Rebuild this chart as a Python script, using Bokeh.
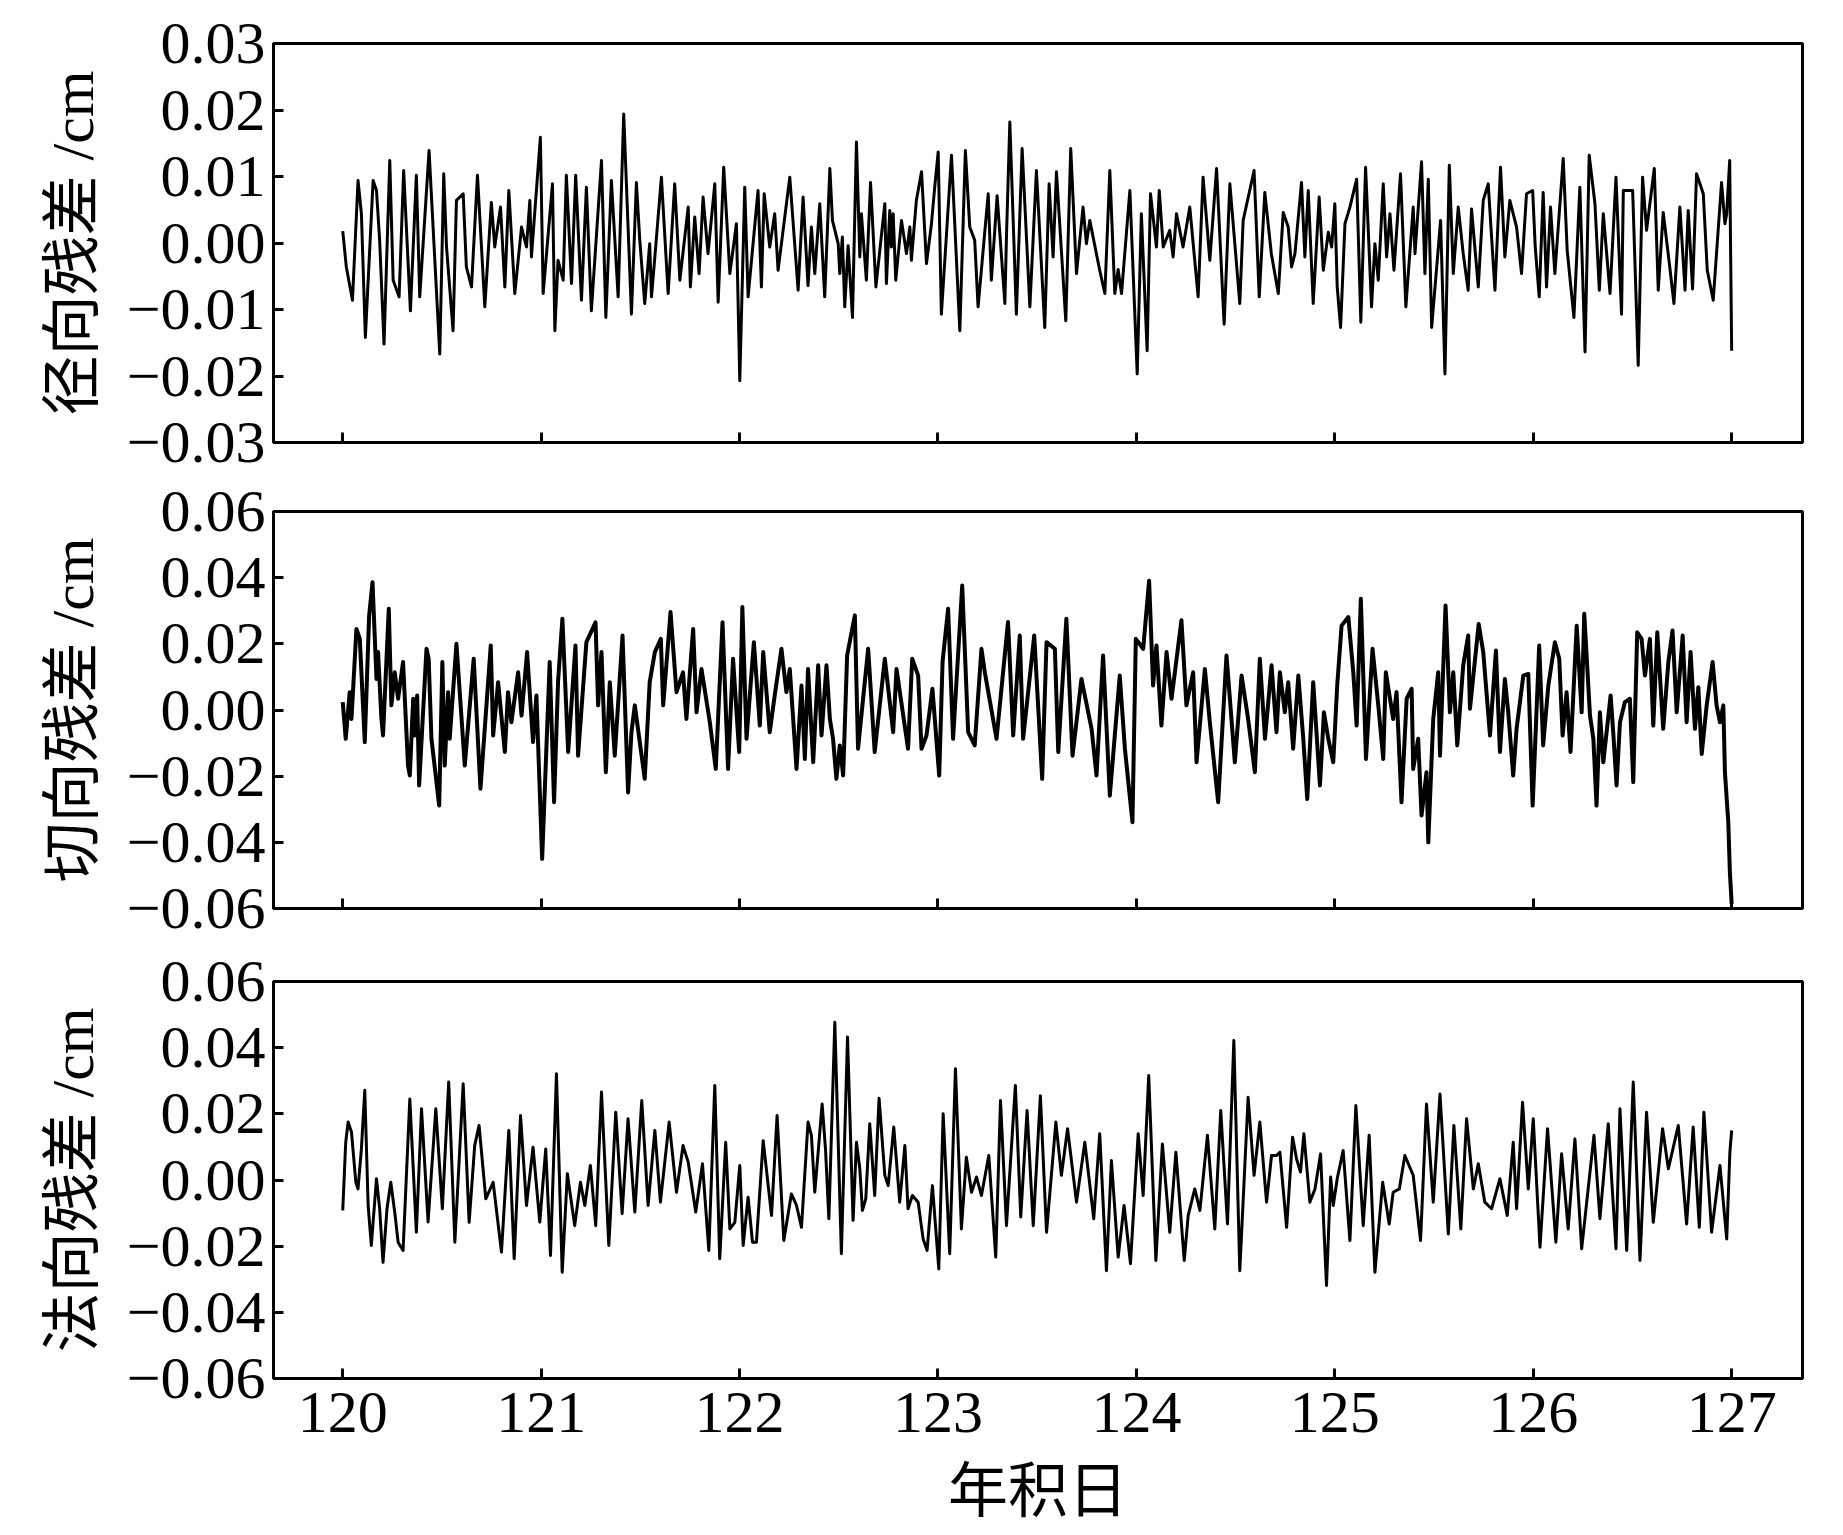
from bokeh.plotting import figure
from bokeh.layouts import column
from bokeh.models import FixedTicker, CustomJSTickFormatter, Range1d
from bokeh.embed import file_html
from bokeh.resources import INLINE

# ---- data: (day of year, residual in cm) ----
radial = [
    (120.000, 0.0018), (120.018, -0.0036), (120.049, -0.0086), (120.077, 0.0094), (120.094, 0.0044),
    (120.114, -0.0142), (120.153, 0.0094), (120.170, 0.0079), (120.186, 0.0004), (120.208, -0.0152),
    (120.237, 0.0124), (120.254, -0.0056), (120.284, -0.0081), (120.307, 0.0109), (120.341, -0.0102),
    (120.371, 0.0102), (120.388, -0.0081), (120.435, 0.0139), (120.489, -0.0167), (120.509, 0.0104),
    (120.523, -0.0006), (120.556, -0.0132), (120.573, 0.0064), (120.607, 0.0074), (120.623, -0.0036),
    (120.649, -0.0066), (120.679, 0.0102), (120.716, -0.0096), (120.749, 0.0061), (120.766, -0.0006),
    (120.795, 0.0054), (120.817, -0.0066), (120.837, 0.0079), (120.867, -0.0076), (120.901, 0.0024),
    (120.926, -0.0006), (120.943, 0.0064), (120.951, -0.0021), (120.996, 0.0159), (121.010, -0.0076),
    (121.057, 0.0089), (121.069, -0.0132), (121.085, -0.0026), (121.111, -0.0056), (121.127, 0.0102),
    (121.153, -0.0061), (121.174, 0.0102), (121.203, -0.0086), (121.228, 0.0084), (121.253, -0.0102),
    (121.304, 0.0124), (121.326, -0.0112), (121.354, 0.0094), (121.388, -0.0081), (121.416, 0.0194),
    (121.455, -0.0107), (121.480, 0.0091), (121.497, 0.0004), (121.522, -0.0091), (121.547, -0.0001),
    (121.556, -0.0081), (121.573, -0.0021), (121.606, 0.0099), (121.640, -0.0076), (121.673, 0.0089),
    (121.699, -0.0056), (121.741, 0.0054), (121.752, -0.0066), (121.774, 0.0039), (121.796, -0.0046),
    (121.816, 0.0069), (121.841, -0.0016), (121.875, 0.0089), (121.892, -0.0089), (121.920, 0.0114),
    (121.951, -0.0046), (121.984, 0.0029), (122.001, -0.0207), (122.026, 0.0084), (122.043, -0.0081),
    (122.093, 0.0079), (122.110, -0.0066), (122.124, 0.0074), (122.152, -0.0006), (122.177, 0.0044),
    (122.194, -0.0041), (122.253, 0.0099), (122.295, -0.0071), (122.320, 0.0069), (122.345, -0.0064),
    (122.362, 0.0024), (122.379, -0.0046), (122.404, 0.0059), (122.429, -0.0081), (122.455, 0.0112),
    (122.468, 0.0034), (122.497, -0.0001), (122.505, -0.0046), (122.518, 0.0009), (122.530, -0.0096),
    (122.547, -0.0004), (122.569, -0.0112), (122.589, 0.0152), (122.606, -0.0021), (122.614, 0.0044),
    (122.639, -0.0056), (122.660, 0.0091), (122.687, -0.0066), (122.732, 0.0059), (122.740, -0.0061),
    (122.757, 0.0049), (122.765, -0.0006), (122.774, 0.0044), (122.787, -0.0056), (122.816, 0.0034),
    (122.841, -0.0016), (122.858, 0.0024), (122.866, -0.0026), (122.891, 0.0064), (122.917, 0.0107),
    (122.942, -0.0031), (122.967, 0.0029), (122.984, 0.0086), (123.001, 0.0137), (123.017, -0.0107),
    (123.043, 0.0014), (123.068, 0.0132), (123.110, -0.0132), (123.138, 0.0139), (123.160, 0.0024),
    (123.185, 0.0004), (123.202, -0.0096), (123.253, 0.0074), (123.269, -0.0056), (123.298, 0.0071),
    (123.337, -0.0091), (123.345, 0.0009), (123.362, 0.0182), (123.395, -0.0107), (123.424, 0.0142),
    (123.463, -0.0096), (123.496, 0.0109), (123.538, -0.0127), (123.560, 0.0089), (123.580, -0.0021),
    (123.597, 0.0107), (123.644, -0.0117), (123.669, 0.0142), (123.698, -0.0046), (123.731, 0.0054),
    (123.748, -0.0001), (123.765, 0.0034), (123.815, -0.0041), (123.841, -0.0076), (123.866, 0.0109),
    (123.891, -0.0076), (123.908, -0.0040), (123.925, -0.0076), (123.967, 0.0079), (124.004, -0.0197),
    (124.025, 0.0044), (124.054, -0.0162), (124.071, 0.0074), (124.101, -0.0006), (124.115, 0.0079),
    (124.135, -0.0006), (124.168, 0.0019), (124.185, -0.0021), (124.202, 0.0044), (124.235, -0.0006),
    (124.269, 0.0054), (124.311, -0.0081), (124.336, 0.0099), (124.370, -0.0026), (124.404, 0.0112),
    (124.442, -0.0122), (124.471, 0.0089), (124.521, -0.0091), (124.538, 0.0034), (124.593, 0.0109),
    (124.619, -0.0081), (124.647, 0.0076), (124.680, -0.0016), (124.715, -0.0076), (124.740, 0.0046),
    (124.765, 0.0024), (124.782, -0.0036), (124.799, -0.0016), (124.832, 0.0091), (124.849, -0.0021),
    (124.866, 0.0079), (124.891, -0.0091), (124.921, 0.0069), (124.942, -0.0041), (124.967, 0.0016),
    (124.984, -0.0006), (125.000, 0.0059), (125.012, -0.0066), (125.029, -0.0127), (125.051, 0.0029),
    (125.076, 0.0054), (125.110, 0.0096), (125.131, -0.0119), (125.155, 0.0114), (125.185, -0.0096),
    (125.202, -0.0001), (125.219, -0.0056), (125.244, 0.0089), (125.261, -0.0021), (125.278, 0.0044),
    (125.298, -0.0041), (125.331, 0.0104), (125.358, -0.0096), (125.395, 0.0054), (125.404, -0.0016),
    (125.437, 0.0122), (125.454, -0.0046), (125.471, 0.0096), (125.488, -0.0127), (125.533, 0.0034),
    (125.555, -0.0197), (125.577, 0.0117), (125.597, -0.0046), (125.622, 0.0054), (125.647, -0.0016),
    (125.672, -0.0071), (125.689, 0.0051), (125.723, -0.0066), (125.748, 0.0064), (125.773, 0.0089),
    (125.807, -0.0071), (125.835, 0.0114), (125.857, -0.0021), (125.882, 0.0064), (125.916, 0.0024),
    (125.941, -0.0046), (125.966, 0.0074), (125.997, 0.0079), (126.010, -0.0006), (126.030, -0.0081),
    (126.050, 0.0076), (126.067, -0.0066), (126.087, 0.0054), (126.109, -0.0046), (126.151, 0.0127),
    (126.171, -0.0011), (126.205, -0.0112), (126.235, 0.0084), (126.261, -0.0164), (126.282, 0.0132),
    (126.311, 0.0059), (126.333, -0.0071), (126.353, 0.0044), (126.387, -0.0076), (126.417, 0.0099),
    (126.445, -0.0107), (126.454, 0.0079), (126.501, 0.0079), (126.529, -0.0184), (126.551, 0.0099),
    (126.571, 0.0019), (126.610, 0.0112), (126.630, -0.0071), (126.655, 0.0046), (126.686, -0.0031),
    (126.709, -0.0091), (126.739, 0.0054), (126.765, -0.0071), (126.781, 0.0049), (126.803, -0.0069),
    (126.823, 0.0104), (126.857, 0.0074), (126.877, -0.0041), (126.907, -0.0086), (126.949, 0.0091),
    (126.966, 0.0029), (126.975, 0.0044), (126.990, 0.0124), (127.000, -0.0162),
]

along = [
    (120.000, 0.0024), (120.015, -0.0087), (120.035, 0.0054), (120.044, -0.0027), (120.069, 0.0245),
    (120.086, 0.0215), (120.102, 0.0014), (120.111, -0.0097), (120.133, 0.0286), (120.150, 0.0386),
    (120.170, 0.0094), (120.178, 0.0175), (120.195, -0.0027), (120.203, -0.0077), (120.232, 0.0306),
    (120.245, 0.0014), (120.262, 0.0114), (120.279, 0.0034), (120.304, 0.0145), (120.329, -0.0168),
    (120.338, -0.0198), (120.355, 0.0034), (120.363, -0.0077), (120.375, 0.0044), (120.385, -0.0228),
    (120.422, 0.0185), (120.433, 0.0155), (120.447, -0.0087), (120.486, -0.0289), (120.502, 0.0145),
    (120.514, -0.0168), (120.531, 0.0054), (120.539, -0.0087), (120.573, 0.0200), (120.615, -0.0168),
    (120.660, 0.0155), (120.694, -0.0238), (120.746, 0.0195), (120.758, -0.0077), (120.783, 0.0084),
    (120.817, -0.0127), (120.833, 0.0054), (120.850, -0.0037), (120.884, 0.0114), (120.901, -0.0017),
    (120.929, 0.0175), (120.959, -0.0097), (120.976, 0.0044), (121.005, -0.0450), (121.043, 0.0145),
    (121.065, -0.0279), (121.085, 0.0084), (121.107, 0.0276), (121.136, -0.0127), (121.173, 0.0195),
    (121.186, -0.0138), (121.228, 0.0205), (121.274, 0.0265), (121.287, 0.0014), (121.304, 0.0175),
    (121.326, -0.0188), (121.346, 0.0084), (121.371, -0.0138), (121.410, 0.0225), (121.438, -0.0249),
    (121.455, -0.0067), (121.472, 0.0014), (121.522, -0.0208), (121.547, 0.0084), (121.573, 0.0175),
    (121.603, 0.0215), (121.615, 0.0014), (121.652, 0.0296), (121.682, 0.0054), (121.715, 0.0114),
    (121.732, -0.0027), (121.766, 0.0245), (121.783, -0.0007), (121.808, 0.0124), (121.850, -0.0037),
    (121.880, -0.0178), (121.914, 0.0265), (121.942, -0.0178), (121.967, 0.0155), (121.998, -0.0127),
    (122.014, 0.0311), (122.035, -0.0087), (122.072, 0.0205), (122.102, -0.0047), (122.119, 0.0175),
    (122.152, -0.0067), (122.177, 0.0044), (122.211, 0.0185), (122.236, 0.0054), (122.253, 0.0124),
    (122.287, -0.0178), (122.312, 0.0074), (122.329, -0.0148), (122.345, 0.0124), (122.371, -0.0158),
    (122.396, 0.0135), (122.413, -0.0077), (122.438, 0.0135), (122.455, -0.0027), (122.471, -0.0087),
    (122.488, -0.0208), (122.505, -0.0107), (122.522, -0.0198), (122.542, 0.0165), (122.581, 0.0286),
    (122.597, -0.0117), (122.648, 0.0185), (122.681, -0.0127), (122.732, 0.0155), (122.774, -0.0067),
    (122.791, 0.0124), (122.849, -0.0117), (122.870, 0.0155), (122.900, 0.0104), (122.917, -0.0117),
    (122.942, -0.0077), (122.972, 0.0064), (123.006, -0.0198), (123.023, 0.0145), (123.051, 0.0306),
    (123.076, -0.0087), (123.122, 0.0376), (123.152, -0.0067), (123.185, -0.0107), (123.219, 0.0185),
    (123.236, 0.0114), (123.295, -0.0087), (123.353, 0.0266), (123.379, -0.0077), (123.412, 0.0225),
    (123.429, -0.0087), (123.485, 0.0225), (123.525, -0.0208), (123.547, 0.0205), (123.589, 0.0185),
    (123.606, -0.0127), (123.647, 0.0276), (123.678, -0.0138), (123.723, 0.0094), (123.774, -0.0057),
    (123.799, -0.0198), (123.832, 0.0165), (123.866, -0.0259), (123.916, 0.0104), (123.942, -0.0117),
    (123.980, -0.0339), (123.997, 0.0215), (124.034, 0.0185), (124.064, 0.0391), (124.084, 0.0074),
    (124.101, 0.0195), (124.126, -0.0047), (124.152, 0.0175), (124.177, 0.0034), (124.227, 0.0271),
    (124.252, 0.0014), (124.286, 0.0114), (124.303, -0.0158), (124.345, 0.0124), (124.370, -0.0037),
    (124.412, -0.0279), (124.454, 0.0165), (124.496, -0.0158), (124.530, 0.0104), (124.563, -0.0027),
    (124.597, -0.0188), (124.622, 0.0155), (124.648, -0.0087), (124.681, 0.0135), (124.706, -0.0067),
    (124.723, 0.0114), (124.748, -0.0007), (124.765, 0.0084), (124.790, -0.0117), (124.816, 0.0104),
    (124.841, -0.0087), (124.861, -0.0269), (124.891, 0.0084), (124.925, -0.0228), (124.945, -0.0007),
    (124.967, -0.0087), (124.992, -0.0158), (125.012, 0.0074), (125.034, 0.0255), (125.068, 0.0281),
    (125.093, 0.0114), (125.110, -0.0047), (125.131, 0.0336), (125.157, -0.0148), (125.190, 0.0185),
    (125.219, 0.0014), (125.244, -0.0148), (125.257, 0.0114), (125.294, -0.0027), (125.311, 0.0054),
    (125.336, -0.0279), (125.362, 0.0034), (125.387, 0.0064), (125.395, -0.0178), (125.420, -0.0087),
    (125.437, -0.0319), (125.462, -0.0188), (125.471, -0.0400), (125.496, -0.0027), (125.521, 0.0114),
    (125.530, -0.0138), (125.558, 0.0316), (125.580, -0.0007), (125.597, 0.0114), (125.617, -0.0107),
    (125.647, 0.0135), (125.672, 0.0225), (125.681, 0.0004), (125.725, 0.0260), (125.748, 0.0175),
    (125.782, -0.0077), (125.812, 0.0180), (125.832, -0.0127), (125.857, 0.0094), (125.874, -0.0007),
    (125.899, -0.0198), (125.916, -0.0057), (125.950, 0.0104), (125.975, 0.0109), (125.997, -0.0289),
    (126.030, 0.0195), (126.050, -0.0107), (126.076, 0.0074), (126.109, 0.0205), (126.131, 0.0155),
    (126.148, -0.0077), (126.168, 0.0054), (126.188, -0.0127), (126.219, 0.0255), (126.244, -0.0007),
    (126.257, 0.0291), (126.286, -0.0017), (126.303, -0.0087), (126.319, -0.0289), (126.336, -0.0007),
    (126.353, -0.0158), (126.390, 0.0044), (126.403, -0.0067), (126.420, -0.0228), (126.437, -0.0037),
    (126.462, 0.0024), (126.487, 0.0034), (126.504, -0.0218), (126.524, 0.0235), (126.546, 0.0215),
    (126.563, 0.0104), (126.588, 0.0215), (126.605, -0.0047), (126.625, 0.0235), (126.655, -0.0057),
    (126.681, 0.0145), (126.702, 0.0240), (126.723, -0.0007), (126.753, 0.0225), (126.773, -0.0037),
    (126.793, 0.0175), (126.815, -0.0057), (126.832, 0.0069), (126.849, -0.0133), (126.874, 0.0014),
    (126.904, 0.0145), (126.924, 0.0014), (126.941, -0.0037), (126.958, 0.0014), (126.966, -0.0188),
    (126.983, -0.0339), (126.991, -0.0490), (127.000, -0.0586),
]

normal = [
    (120.000, -0.0092), (120.015, 0.0114), (120.027, 0.0175), (120.044, 0.0145), (120.066, -0.0007),
    (120.077, -0.0027), (120.094, 0.0094), (120.111, 0.0271), (120.128, -0.0077), (120.144, -0.0198),
    (120.170, 0.0004), (120.186, -0.0087), (120.203, -0.0249), (120.223, -0.0087), (120.242, -0.0007),
    (120.262, -0.0097), (120.279, -0.0188), (120.304, -0.0213), (120.338, 0.0245), (120.371, -0.0158),
    (120.397, 0.0215), (120.430, -0.0127), (120.469, 0.0215), (120.502, -0.0087), (120.534, 0.0296),
    (120.565, -0.0188), (120.607, 0.0291), (120.637, -0.0128), (120.665, 0.0104), (120.687, 0.0165),
    (120.721, -0.0057), (120.758, -0.0007), (120.800, -0.0218), (120.837, 0.0150), (120.864, -0.0238),
    (120.896, 0.0195), (120.926, -0.0077), (120.959, 0.0099), (120.993, -0.0127), (121.023, 0.0094),
    (121.047, -0.0228), (121.077, 0.0321), (121.106, -0.0279), (121.132, 0.0019), (121.169, -0.0138),
    (121.198, -0.0007), (121.220, -0.0077), (121.248, 0.0044), (121.275, -0.0138), (121.304, 0.0266),
    (121.341, -0.0198), (121.376, 0.0205), (121.408, -0.0102), (121.438, 0.0185), (121.472, -0.0097),
    (121.507, 0.0240), (121.539, -0.0077), (121.573, 0.0150), (121.601, -0.0067), (121.645, 0.0175),
    (121.682, -0.0037), (121.715, 0.0104), (121.741, 0.0054), (121.779, -0.0097), (121.813, 0.0049),
    (121.845, -0.0213), (121.875, 0.0286), (121.900, -0.0238), (121.930, 0.0114), (121.951, -0.0148),
    (121.976, -0.0128), (122.001, 0.0044), (122.018, -0.0198), (122.043, -0.0052), (122.065, -0.0188),
    (122.085, -0.0188), (122.119, 0.0119), (122.161, -0.0107), (122.189, 0.0195), (122.223, -0.0183),
    (122.261, -0.0042), (122.287, -0.0077), (122.312, -0.0143), (122.345, 0.0175), (122.362, 0.0135),
    (122.379, -0.0037), (122.396, 0.0084), (122.416, 0.0230), (122.433, 0.0094), (122.450, -0.0117),
    (122.480, 0.0477), (122.513, -0.0223), (122.544, 0.0432), (122.572, -0.0122), (122.589, 0.0114),
    (122.606, 0.0034), (122.619, -0.0092), (122.636, -0.0057), (122.656, 0.0170), (122.681, -0.0047),
    (122.703, 0.0247), (122.732, 0.0014), (122.749, -0.0017), (122.777, 0.0160), (122.807, -0.0067),
    (122.833, 0.0104), (122.849, -0.0087), (122.871, -0.0047), (122.900, -0.0067), (122.925, -0.0178),
    (122.945, -0.0213), (122.972, -0.0017), (123.004, -0.0269), (123.026, 0.0200), (123.059, -0.0223),
    (123.088, 0.0336), (123.118, -0.0148), (123.143, 0.0069), (123.169, -0.0037), (123.194, 0.0009),
    (123.219, -0.0047), (123.256, 0.0074), (123.291, -0.0233), (123.315, 0.0240), (123.345, -0.0138),
    (123.390, 0.0286), (123.417, -0.0112), (123.449, 0.0210), (123.480, -0.0138), (123.516, 0.0255),
    (123.547, -0.0158), (123.594, 0.0175), (123.622, 0.0014), (123.653, 0.0155), (123.698, -0.0067),
    (123.740, 0.0114), (123.785, -0.0117), (123.815, 0.0140), (123.849, -0.0274), (123.874, 0.0059),
    (123.908, -0.0233), (123.938, -0.0077), (123.970, -0.0253), (124.009, 0.0140), (124.034, -0.0047),
    (124.062, 0.0316), (124.098, -0.0243), (124.131, 0.0109), (124.168, -0.0158), (124.199, 0.0084),
    (124.241, -0.0243), (124.261, -0.0107), (124.294, -0.0027), (124.320, -0.0092), (124.358, 0.0135),
    (124.395, -0.0148), (124.425, 0.0210), (124.459, -0.0133), (124.491, 0.0422), (124.521, -0.0274),
    (124.563, 0.0250), (124.593, 0.0014), (124.622, 0.0175), (124.656, -0.0067), (124.681, 0.0074),
    (124.706, 0.0074), (124.723, 0.0084), (124.757, -0.0143), (124.787, 0.0129), (124.807, 0.0064),
    (124.827, 0.0024), (124.844, 0.0140), (124.874, -0.0067), (124.900, -0.0027), (124.928, 0.0079),
    (124.958, -0.0319), (124.979, 0.0009), (124.992, -0.0077), (125.012, 0.0004), (125.042, 0.0089),
    (125.076, -0.0183), (125.106, 0.0225), (125.143, -0.0138), (125.173, 0.0135), (125.202, -0.0279),
    (125.241, -0.0007), (125.274, -0.0133), (125.294, -0.0037), (125.325, -0.0027), (125.353, 0.0074),
    (125.395, 0.0014), (125.432, -0.0183), (125.462, 0.0230), (125.496, -0.0067), (125.530, 0.0260),
    (125.572, -0.0163), (125.600, 0.0165), (125.635, -0.0148), (125.664, 0.0185), (125.698, -0.0027),
    (125.723, 0.0049), (125.756, -0.0067), (125.790, -0.0087), (125.832, 0.0004), (125.869, -0.0107),
    (125.899, 0.0114), (125.916, -0.0087), (125.946, 0.0235), (125.975, -0.0027), (126.000, 0.0185),
    (126.034, -0.0203), (126.072, 0.0155), (126.114, -0.0188), (126.143, 0.0079), (126.176, -0.0148),
    (126.210, 0.0124), (126.244, -0.0208), (126.306, 0.0135), (126.336, -0.0117), (126.378, 0.0170),
    (126.417, -0.0208), (126.437, 0.0215), (126.471, -0.0213), (126.504, 0.0296), (126.538, -0.0243),
    (126.571, 0.0205), (126.605, -0.0128), (126.652, 0.0155), (126.681, 0.0034), (126.731, 0.0165),
    (126.773, -0.0133), (126.806, 0.0160), (126.837, -0.0143), (126.860, 0.0205), (126.899, -0.0158),
    (126.941, 0.0044), (126.975, -0.0178), (126.991, 0.0084), (127.000, 0.0150),
]

day_ticks = [120, 121, 122, 123, 124, 125, 126, 127]
radial_ticks = [-0.03, -0.02, -0.01, 0.0, 0.01, 0.02, 0.03]
wide_ticks = [-0.06, -0.04, -0.02, 0.0, 0.02, 0.04, 0.06]
labels = ["径向残差 /cm", "切向残差 /cm", "法向残差 /cm"]
x_label = "年积日"

NUM_FONT = "Liberation Serif"
CJK_FONT = "Liberation Serif, Noto Sans CJK SC"

y_fmt = CustomJSTickFormatter(code="""
if (Math.abs(tick) < 1e-9) { return '0.00'; }
return (tick < 0 ? '\\u2212' : '') + Math.abs(tick).toFixed(2);
""")
blank_fmt = CustomJSTickFormatter(code="return '';")


def panel(data, ylim, yticks, ylabel, lw, top, bottom, height, last):
    xs = [d for d, v in data]
    ys = [v for d, v in data]
    p = figure(width=1832, height=height,
               x_range=Range1d(119.651, 127.357), y_range=Range1d(ylim[0], ylim[1]),
               output_backend="svg", toolbar_location=None,
               min_border_left=273, min_border_right=30,
               min_border_top=top, min_border_bottom=bottom)
    p.line(xs, ys, line_color="black", line_width=lw, line_join="round")
    p.xgrid.visible = False
    p.ygrid.visible = False
    p.outline_line_color = "black"
    p.outline_line_width = 3
    p.background_fill_color = "white"
    p.border_fill_color = "white"

    for ax in (p.xaxis[0], p.yaxis[0]):
        ax.axis_line_width = 3
        ax.axis_line_color = "black"
        ax.major_tick_in = 10
        ax.major_tick_out = 0
        ax.major_tick_line_width = 3
        ax.major_tick_line_color = "black"
        ax.minor_tick_line_color = None
        ax.major_label_text_font = NUM_FONT
        ax.major_label_text_font_size = "60px"
        ax.major_label_text_color = "black"
        ax.axis_label_text_font = CJK_FONT
        ax.axis_label_text_font_size = "60px"
        ax.axis_label_text_font_style = "normal"
        ax.axis_label_text_color = "black"

    p.xaxis.ticker = FixedTicker(ticks=day_ticks)
    p.yaxis.ticker = FixedTicker(ticks=yticks)
    p.yaxis.formatter = y_fmt
    p.yaxis.major_label_standoff = 8
    p.yaxis.axis_label = ylabel
    p.yaxis.axis_label_standoff = 18
    if last:
        p.xaxis.major_label_standoff = 14
        p.xaxis.axis_label = x_label
        p.xaxis.axis_label_standoff = 24
    else:
        p.xaxis.formatter = blank_fmt
        p.xaxis.major_label_text_font_size = "1px"
    return p


p1 = panel(radial, (-0.03, 0.03), radial_ticks, labels[0], 3, 43, 34, 476, False)
p2 = panel(along, (-0.06, 0.06), wide_ticks, labels[1], 4, 35, 38, 470, False)
p3 = panel(normal, (-0.06, 0.06), wide_ticks, labels[2], 3, 35, 140, 581, True)

layout = column(p1, p2, p3, spacing=0)
open("out.html", "w").write(file_html(layout, INLINE))
